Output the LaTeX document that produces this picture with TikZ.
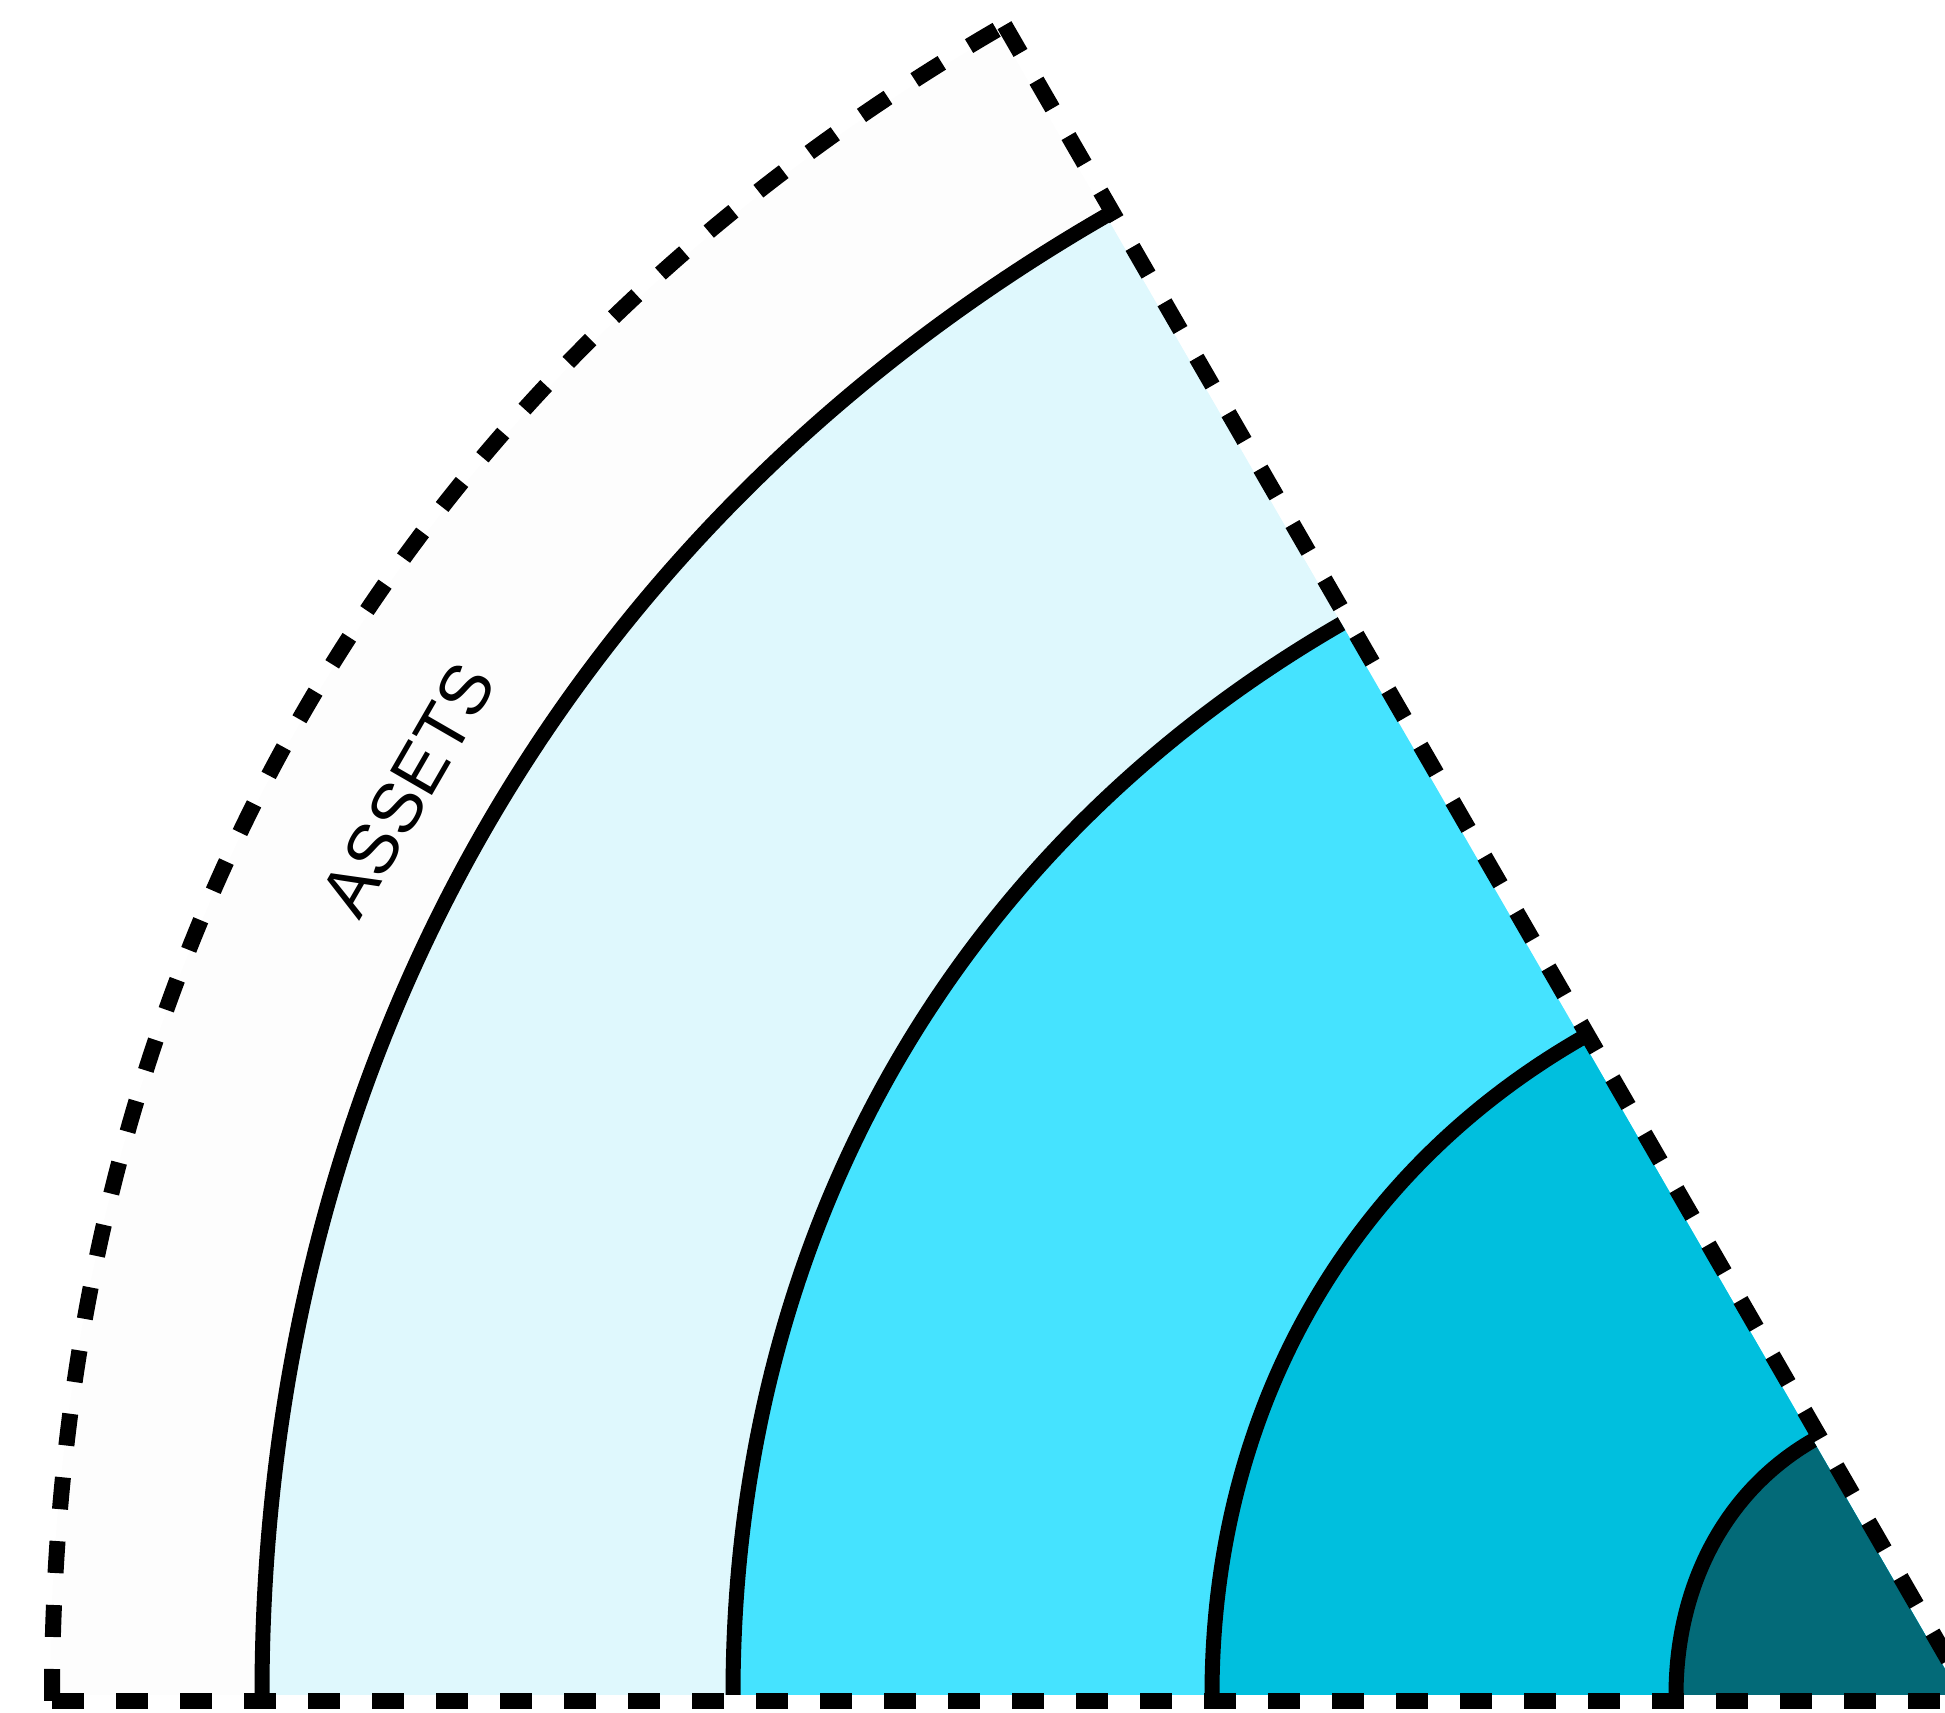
\documentclass[tikz,border=0pt]{standalone}
\usepackage{fontspec}
\setmainfont{Liberation Sans}
\usetikzlibrary{calc}
\definecolor{ring-blank}{HTML}{FDFDFD}
\definecolor{ring-pale}{HTML}{DFF8FD}
\definecolor{ring-bright}{HTML}{45E3FF}
\definecolor{ring-mid}{HTML}{00BFDE}
\definecolor{ring-deep}{HTML}{036A78}
\tikzset{
  rim/.style={draw=black, line width=1.5mm},
  edgeline/.style={draw=black, line width=1.6mm, dash pattern=on 3.2mm off 3.2mm},
  ringlbl/.style={font=\fontsize{20}{24}\selectfont, text=black, inner sep=0pt}
}

\begin{document}
\begin{tikzpicture}
  \useasboundingbox (0,0) rectangle (19.45,17.13);
  \coordinate (apex) at (19.60,0.18);
  \coordinate (rim apex) at (19.72,0.12);

  % ---- Sector fills, outermost first ---------------------------------------
  \foreach \r/\c in {19.1/ring-blank, 16.98/ring-pale, 12.27/ring-bright,
                     7.48/ring-mid, 2.84/ring-deep} {
    \pgfmathsetmacro{\k}{0.37*\r}
    \pgfmathsetmacro{\rt}{\r+0.1}
    \fill[\c] (apex) -- ($(apex)+(180:\r)$)
      .. controls ($(apex)+(180:\r)+(90:\k)$) and ($(apex)+(120:\rt)+(210:\k)$)
      .. ($(apex)+(120:\rt)$) -- cycle;
  }

  % ---- Solid ring arcs -----------------------------------------------------
  \foreach \r in {16.98, 12.27, 7.48, 2.84} {
    \pgfmathsetmacro{\k}{0.37*\r}
    \pgfmathsetmacro{\rt}{\r+0.1}
    \draw[rim] ($(apex)+(180:\r)$)
      .. controls ($(apex)+(180:\r)+(90:\k)$) and ($(apex)+(120:\rt)+(210:\k)$)
      .. ($(apex)+(120:\rt)$);
  }

  % ---- Dashed outline ------------------------------------------------------
  \coordinate (rim left) at ($(rim apex)+(180:19.2)$);
  \coordinate (rim top) at ($(rim apex)+(120:19.35)$);
  \draw[edgeline] (rim left)
    .. controls ($(rim left)+(90:7.2)$) and ($(rim top)+(210:7.2)$) .. (rim top);
  \draw[edgeline] (rim left) -- (rim apex);
  \draw[edgeline] (rim top) -- (rim apex);

  % ---- Label ---------------------------------------------------------------
  \node[ringlbl, rotate=60] (assets) at ($(apex)+(149.75:17.97)$) {ASSETS};

\end{tikzpicture}
\end{document}
